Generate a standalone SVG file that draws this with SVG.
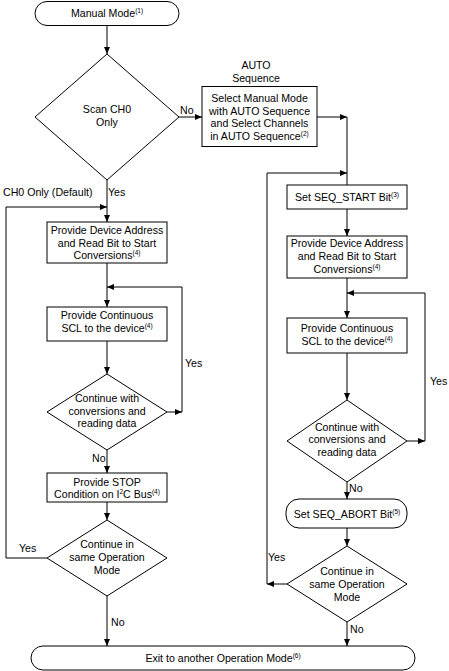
<svg xmlns="http://www.w3.org/2000/svg" width="449" height="671" viewBox="0 0 449 671">
<style>
.s{fill:#fff;stroke:#000;stroke-width:1}
.c{fill:none;stroke:#000;stroke-width:1}
text{font-family:"Liberation Sans",Arial,sans-serif;font-size:10.6px;fill:#000}
.m{text-anchor:middle}
.sup{font-size:6.5px}
</style>
<defs>
<marker id="a" markerUnits="userSpaceOnUse" markerWidth="7" markerHeight="6" refX="7" refY="3" orient="auto">
<path d="M0,0 L7,3 L0,6 z" fill="#000"/>
</marker>
</defs>
<rect width="449" height="671" fill="#fff"/>
<g id="connectors">
<path class="c" d="M107,25 V54" marker-end="url(#a)"/>
<path class="c" d="M179,117 H202" marker-end="url(#a)"/>
<path class="c" d="M317,117 H347" marker-end="url(#a)"/>
<path class="c" d="M347,117 V185"/>
<path class="c" d="M287,584 H267" marker-end="url(#a)"/>
<path class="c" d="M267,584 V173 H347" marker-end="url(#a)"/>
<path class="c" d="M347,209 V236" marker-end="url(#a)"/>
<path class="c" d="M347,278 V318" marker-end="url(#a)"/>
<path class="c" d="M407,441 H425" marker-end="url(#a)"/>
<path class="c" d="M425,441 V293 H347" marker-end="url(#a)"/>
<path class="c" d="M347,353 V400" marker-end="url(#a)"/>
<path class="c" d="M347,482 V499" marker-end="url(#a)"/>
<path class="c" d="M347,528 V546" marker-end="url(#a)"/>
<path class="c" d="M347,622 V646" marker-end="url(#a)"/>
<path class="c" d="M107,180 V222" marker-end="url(#a)"/>
<path class="c" d="M47,558 H6 V207 H107" marker-end="url(#a)"/>
<path class="c" d="M107,263 V307" marker-end="url(#a)"/>
<path class="c" d="M167,412 H182" marker-end="url(#a)"/>
<path class="c" d="M182,412 V287 H107" marker-end="url(#a)"/>
<path class="c" d="M107,341 V374" marker-end="url(#a)"/>
<path class="c" d="M107,450 V473" marker-end="url(#a)"/>
<path class="c" d="M107,502 V520" marker-end="url(#a)"/>
<path class="c" d="M107,596 V646" marker-end="url(#a)"/>
</g>
<g id="labels">
<text x="180" y="114">No</text>
<text x="256" y="69" class="m">AUTO</text>
<text x="256" y="82" class="m">Sequence</text>
<text x="3" y="196">CH0 Only (Default)</text>
<text x="108" y="196">Yes</text>
<text x="185" y="367">Yes</text>
<text x="430" y="385">Yes</text>
<text x="92" y="462">No</text>
<text x="349" y="492">No</text>
<text x="19" y="552">Yes</text>
<text x="268" y="561">Yes</text>
<text x="111" y="626">No</text>
<text x="350" y="633">No</text>
</g>
<g id="n-manual">
<rect class="s" x="35" y="1.5" width="144" height="24" rx="12"/>
<text x="107" y="17" class="m">Manual Mode<tspan class="sup" dy="-4">(1)</tspan></text>
</g>
<g id="n-scan">
<polygon class="s" points="107,54 179,117 107,180 35,117"/>
<text x="107" y="113" class="m">Scan CH0</text>
<text x="107" y="126" class="m">Only</text>
</g>
<g id="n-select">
<rect class="s" x="202" y="86.5" width="115" height="60"/>
<text x="259.5" y="102" class="m">Select Manual Mode</text>
<text x="259.5" y="115" class="m">with AUTO Sequence</text>
<text x="259.5" y="127" class="m">and Select Channels</text>
<text x="259.5" y="140" class="m">in AUTO Sequence<tspan class="sup" dy="-4">(2)</tspan></text>
</g>
<g id="n-seqstart">
<rect class="s" x="287" y="185" width="120" height="24"/>
<text x="347" y="201" class="m">Set SEQ_START Bit<tspan class="sup" dy="-4">(3)</tspan></text>
</g>
<g id="n-addr-r">
<rect class="s" x="287" y="236" width="120" height="42"/>
<text x="347" y="247" class="m">Provide Device Address</text>
<text x="347" y="260" class="m">and Read Bit to Start</text>
<text x="347" y="273" class="m">Conversions<tspan class="sup" dy="-4">(4)</tspan></text>
</g>
<g id="n-scl-r">
<rect class="s" x="287" y="318" width="120" height="35"/>
<text x="347" y="332" class="m">Provide Continuous</text>
<text x="347" y="345" class="m">SCL to the device<tspan class="sup" dy="-4">(4)</tspan></text>
</g>
<g id="n-cont-r">
<polygon class="s" points="347,400 407,441 347,482 287,441"/>
<text x="347" y="431" class="m">Continue with</text>
<text x="347" y="443" class="m">conversions and</text>
<text x="347" y="456" class="m">reading data</text>
</g>
<g id="n-abort">
<rect class="s" x="286" y="499" width="121" height="29" rx="13"/>
<text x="347" y="518" class="m">Set SEQ_ABORT Bit<tspan class="sup" dy="-4">(5)</tspan></text>
</g>
<g id="n-mode-r">
<polygon class="s" points="347,546 407,584 347,622 287,584"/>
<text x="347" y="575" class="m">Continue in</text>
<text x="347" y="588" class="m">same Operation</text>
<text x="347" y="601" class="m">Mode</text>
</g>
<g id="n-addr-l">
<rect class="s" x="47" y="222" width="120" height="41"/>
<text x="107" y="234" class="m">Provide Device Address</text>
<text x="107" y="246.5" class="m">and Read Bit to Start</text>
<text x="107" y="259" class="m">Conversions<tspan class="sup" dy="-4">(4)</tspan></text>
</g>
<g id="n-scl-l">
<rect class="s" x="47" y="307" width="120" height="34"/>
<text x="107" y="319" class="m">Provide Continuous</text>
<text x="107" y="332" class="m">SCL to the device<tspan class="sup" dy="-4">(4)</tspan></text>
</g>
<g id="n-cont-l">
<polygon class="s" points="107,374 167,412 107,450 47,412"/>
<text x="107" y="402" class="m">Continue with</text>
<text x="107" y="415" class="m">conversions and</text>
<text x="107" y="427" class="m">reading data</text>
</g>
<g id="n-stop">
<rect class="s" x="47" y="473" width="120" height="29"/>
<text x="107" y="486" class="m">Provide STOP</text>
<text x="107" y="498" class="m">Condition on I<tspan class="sup" dy="-4">2</tspan><tspan dy="4">C Bus</tspan><tspan class="sup" dy="-4">(4)</tspan></text>
</g>
<g id="n-mode-l">
<polygon class="s" points="107,520 167,558 107,596 47,558"/>
<text x="107" y="548" class="m">Continue in</text>
<text x="107" y="561" class="m">same Operation</text>
<text x="107" y="574" class="m">Mode</text>
</g>
<g id="n-exit">
<rect class="s" x="31" y="646" width="384" height="24" rx="12"/>
<text x="223" y="662" class="m">Exit to another Operation Mode<tspan class="sup" dy="-4">(6)</tspan></text>
</g>
</svg>
